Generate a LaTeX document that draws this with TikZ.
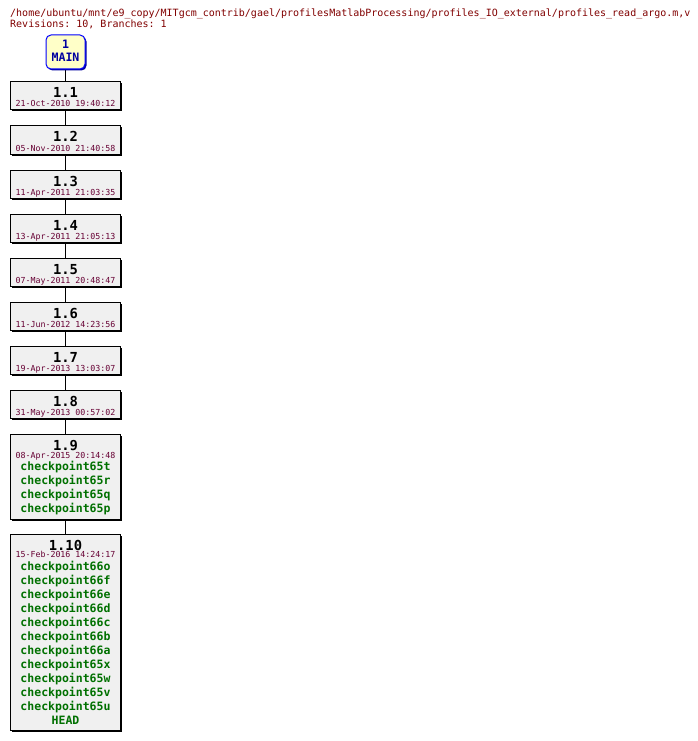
\documentclass[tikz,border=0pt]{standalone}
\usepackage{fontspec}
\setmonofont{DejaVu Sans Mono}
\usetikzlibrary{shadows}
\definecolor{titlecol}{RGB}{128,0,0}
\definecolor{datecol}{RGB}{102,0,51}
\definecolor{tagcol}{RGB}{0,112,0}
\definecolor{navy}{RGB}{0,0,160}
\definecolor{mainborder}{RGB}{0,0,255}
\definecolor{mainfill}{RGB}{255,255,200}
\definecolor{boxfill}{RGB}{240,240,240}
\begin{document}
\begin{tikzpicture}[x=1pt,y=-1pt,
  revbox/.style={draw=black, line width=1pt, fill=boxfill, minimum width=110pt, inner sep=0pt,
    drop shadow={shadow xshift=1.5pt, shadow yshift=-1.5pt, fill=black, opacity=1}},
  mainbox/.style={draw=mainborder, line width=1pt, fill=mainfill, rounded corners=5pt,
    minimum width=39pt, minimum height=34pt, inner sep=0pt,
    drop shadow={shadow xshift=1.5pt, shadow yshift=-1.5pt, fill=navy, opacity=1}},
  conn/.style={draw=black, line width=1pt},
  titletext/.style={anchor=base west, inner sep=0pt, text=titlecol, font=\ttfamily\fontsize{10}{12}\selectfont},
  vertext/.style={anchor=base, inner sep=0pt, font=\ttfamily\bfseries\fontsize{13.8}{16}\selectfont},
  datetext/.style={anchor=base, inner sep=0pt, text=datecol, font=\ttfamily\fontsize{8.3}{10}\selectfont},
  tagtext/.style={anchor=base, inner sep=0pt, text=tagcol, font=\ttfamily\bfseries\fontsize{11.5}{14}\selectfont},
  maintext/.style={anchor=base, inner sep=0pt, text=navy, font=\ttfamily\bfseries\fontsize{11.6}{14}\selectfont}
]
\useasboundingbox (0,0) rectangle (698,741);

\node[titletext] (t1) at (10,16.5) {/home/ubuntu/mnt/e9\_copy/MITgcm\_contrib/gael/profilesMatlabProcessing/profiles\_IO\_external/profiles\_read\_argo.m,v};
\node[titletext] (t2) at (10,28) {Revisions: 10, Branches: 1};

% connectors (behind boxes)
\coordinate (c0) at (65.5,52);
\coordinate (c1) at (65.5,96);
\foreach \i in {2,...,8} {
  \coordinate (c\i) at (65.5,{96+(\i-1)*44});
}
\coordinate (c9) at (65.5,476.5);
\coordinate (c10) at (65.5,632);
\foreach \a/\b in {0/1,1/2,2/3,3/4,4/5,5/6,6/7,7/8,8/9,9/10} {
  \draw[conn] (c\a) -- (c\b);
}

% MAIN
\node[mainbox] (m) at (65.5,52) {};
\node[maintext] (m1) at (65.5,49) {1};
\node[maintext] (m2) at (65.5,62) {MAIN};

% simple revisions
\foreach \i/\d in {1/21-Oct-2010 19:40:12,2/05-Nov-2010 21:40:58,3/11-Apr-2011 21:03:35,
  4/13-Apr-2011 21:05:13,5/07-May-2011 20:48:47,6/11-Jun-2012 14:23:56,
  7/19-Apr-2013 13:03:07,8/31-May-2013 00:57:02} {
  \node[revbox, minimum height=28pt] (r\i) at (65.5,{96+(\i-1)*44}) {};
  \node[vertext] (v\i) at (65.5,{98+(\i-1)*44}) {1.\i};
  \node[datetext] (d\i) at (65.5,{107+(\i-1)*44}) {\d};
}

% 1.9
\node[revbox, minimum height=85pt] (r9) at (65.5,476.5) {};
\node[vertext] (v9) at (65.5,450) {1.9};
\node[datetext] (d9) at (65.5,458) {08-Apr-2015 20:14:48};
\foreach \t [count=\k from 0] in {checkpoint65t,checkpoint65r,checkpoint65q,checkpoint65p} {
  \node[tagtext] (g9\k) at (65.5,{470+\k*14}) {\t};
}

% 1.10
\node[revbox, minimum height=196pt] (r10) at (65.5,632) {};
\node[vertext] (v10) at (65.5,550) {1.10};
\node[datetext] (d10) at (65.5,557.5) {15-Feb-2016 14:24:17};
\foreach \t [count=\k from 0] in {checkpoint66o,checkpoint66f,checkpoint66e,checkpoint66d,checkpoint66c,checkpoint66b,checkpoint66a,checkpoint65x,checkpoint65w,checkpoint65v,checkpoint65u,HEAD} {
  \node[tagtext] (g10\k) at (65.5,{570+\k*14}) {\t};
}
\end{tikzpicture}
\end{document}
